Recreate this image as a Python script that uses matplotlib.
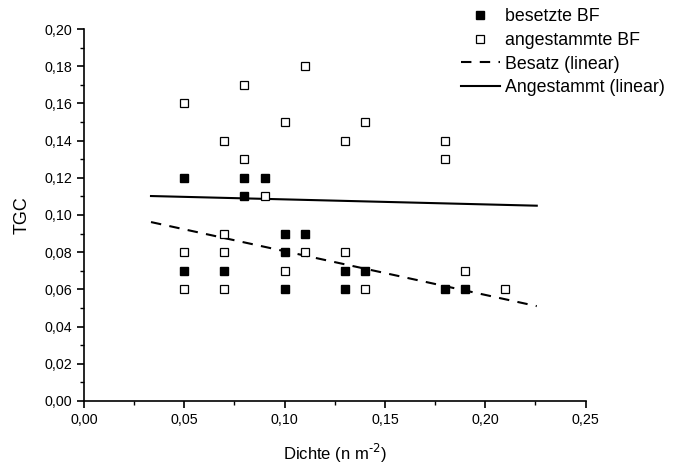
import matplotlib.pyplot as plt
import matplotlib.ticker as mticker

plt.rcParams['font.family'] = ['Liberation Sans', 'DejaVu Sans']

# besetzte BF (gefuellte Quadrate)
bes_x = [0.05, 0.05, 0.07, 0.08, 0.08, 0.09, 0.10, 0.10, 0.10, 0.11,
         0.13, 0.13, 0.14, 0.18, 0.19]
bes_y = [0.12, 0.07, 0.07, 0.12, 0.11, 0.12, 0.09, 0.08, 0.06, 0.09,
         0.07, 0.06, 0.07, 0.06, 0.06]

# angestammte BF (offene Quadrate)
ang_x = [0.05, 0.05, 0.05, 0.07, 0.07, 0.07, 0.07, 0.08, 0.08, 0.09,
         0.10, 0.10, 0.11, 0.11, 0.13, 0.13, 0.14, 0.14, 0.18, 0.18,
         0.19, 0.21]
ang_y = [0.16, 0.08, 0.06, 0.14, 0.09, 0.08, 0.06, 0.17, 0.13, 0.11,
         0.15, 0.07, 0.18, 0.08, 0.14, 0.08, 0.15, 0.06, 0.14, 0.13,
         0.07, 0.06]

fit_x = [0.0334, 0.2257]
besatz_fit = [0.0962, 0.0510]
angest_fit = [0.1102, 0.1050]

fig = plt.figure(figsize=(6.73, 4.68), dpi=100)
ax = fig.add_axes([0.1248, 0.1432, 0.7452, 0.7948])

ax.plot(fit_x, besatz_fit, color='black', lw=1.5, ls=(0, (5, 4)),
        label='Besatz (linear)', zorder=2)
ax.plot(fit_x, angest_fit, color='black', lw=1.5, ls='-',
        label='Angestammt (linear)', zorder=2)
ax.plot(ang_x, ang_y, ls='none', marker='s', ms=6, mfc='white',
        mec='black', mew=0.9, label='angestammte BF', zorder=3)
ax.plot(bes_x, bes_y, ls='none', marker='s', ms=6, mfc='black',
        mec='black', label='besetzte BF', zorder=4)

ax.set_xlim(0, 0.25)
ax.set_ylim(0, 0.20)
ax.spines['top'].set_visible(False)
ax.spines['right'].set_visible(False)
ax.spines['left'].set_linewidth(1.2)
ax.spines['bottom'].set_linewidth(1.2)

ax.xaxis.set_major_locator(mticker.MultipleLocator(0.05))
ax.xaxis.set_minor_locator(mticker.MultipleLocator(0.025))
ax.yaxis.set_major_locator(mticker.MultipleLocator(0.02))
ax.yaxis.set_minor_locator(mticker.MultipleLocator(0.01))
ax.xaxis.set_major_formatter(mticker.FuncFormatter(
    lambda v, p: f"{v:.2f}".replace('.', ',')))
ax.yaxis.set_major_formatter(mticker.FuncFormatter(
    lambda v, p: f"{v:.2f}".replace('.', ',')))
ax.tick_params(which='major', direction='out', length=5, width=1.2,
               labelsize=10.3)
ax.tick_params(which='minor', direction='out', length=3, width=1.0)

ax.set_xlabel(r'Dichte (n m$^{\text{-2}}$)', fontsize=12, labelpad=11)
ax.set_ylabel('TGC', fontsize=13, labelpad=10)

h, l = ax.get_legend_handles_labels()
order = [3, 2, 0, 1]
fig.legend([h[i] for i in order], [l[i] for i in order],
           loc='upper right', bbox_to_anchor=(1.0, 1.0), frameon=False,
           fontsize=12.8, handlelength=2.2, handletextpad=0.3,
           labelspacing=0.38, borderaxespad=0.05)

plt.savefig('out.png', dpi=100)
